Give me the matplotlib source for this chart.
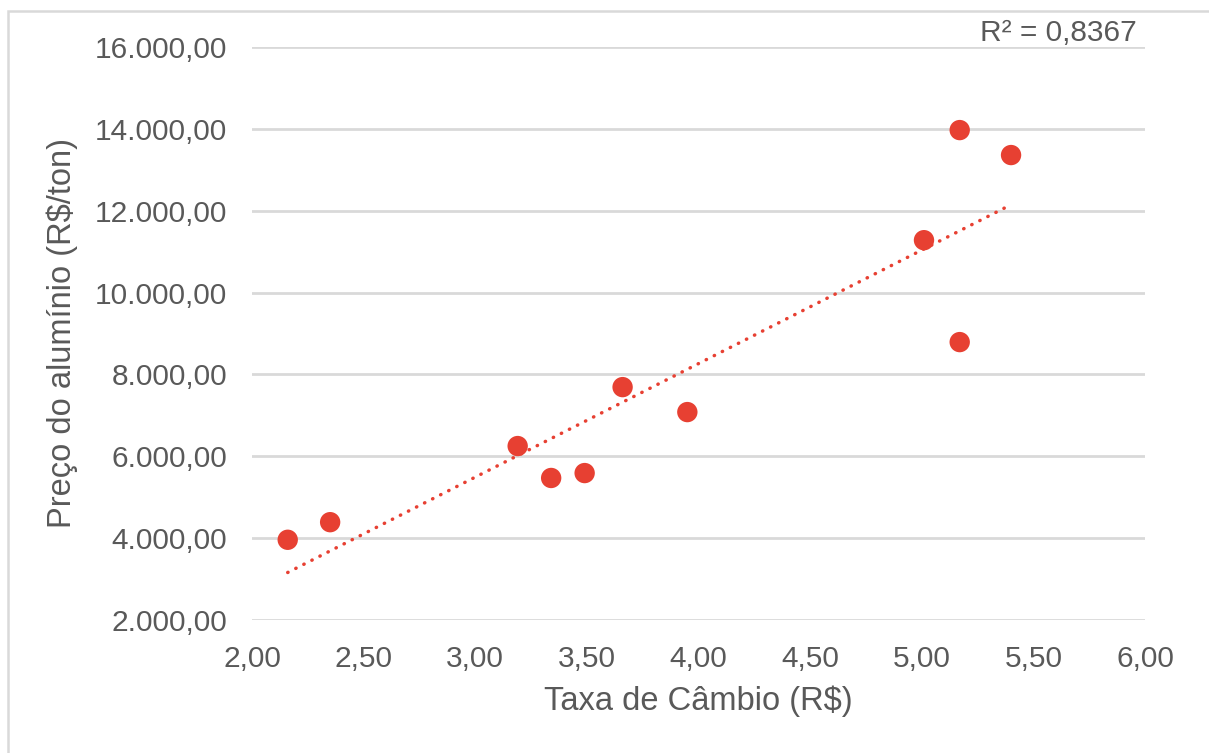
import numpy as np
import matplotlib
matplotlib.use("Agg")
import matplotlib.pyplot as plt
from matplotlib.patches import Rectangle
from matplotlib.ticker import FuncFormatter

plt.rcParams['font.family'] = ['Liberation Sans', 'DejaVu Sans']

# Data
taxa_cambio = [2.16, 2.35, 3.19, 3.34, 3.49, 3.66, 3.95, 5.01, 5.17, 5.40, 5.17]
preco_aluminio = [3960, 4390, 6250, 5470, 5590, 7690, 7080, 11280, 13970, 13360, 8790]
r2_label = "R² = 0,8367"
x_label = "Taxa de Câmbio (R$)"
y_label = "Preço do alumínio (R$/ton)"
x_ticks = [2.0, 2.5, 3.0, 3.5, 4.0, 4.5, 5.0, 5.5, 6.0]
y_ticks = [2000, 4000, 6000, 8000, 10000, 12000, 14000, 16000]

W, H = 1209, 753
fig = plt.figure(figsize=(W / 100, H / 100), dpi=100)
ax = fig.add_axes([252 / W, 1 - 620 / H, (1145 - 252) / W, (620 - 47) / H])

red = '#e74032'
grid_c = '#d9d9d9'
txt_c = '#595959'

x = np.array(taxa_cambio)
y = np.array(preco_aluminio)
coef = np.polyfit(x, y, 1)
xs = np.array([x.min(), x.max()])
ax.plot(xs, np.polyval(coef, xs), color=red, lw=2.5,
        linestyle=(0, (0.1, 2.5)), dash_capstyle='round', zorder=3)
ax.scatter(x, y, s=215, color=red, edgecolors='none', zorder=4)

ax.set_xlim(2.0, 6.0)
ax.set_ylim(2000, 16000)
ax.set_xticks(x_ticks)
ax.set_yticks(y_ticks)

def fmt_x(v, pos):
    return f"{v:.2f}".replace('.', ',')

def fmt_y(v, pos):
    s = f"{v:,.2f}"
    return s.replace(',', 'X').replace('.', ',').replace('X', '.')

ax.xaxis.set_major_formatter(FuncFormatter(fmt_x))
ax.yaxis.set_major_formatter(FuncFormatter(fmt_y))

ax.grid(axis='y', color=grid_c, lw=2.0)
ax.set_axisbelow(True)
for s in ax.spines.values():
    s.set_visible(False)
ax.tick_params(axis='both', length=0, labelsize=21.5, colors=txt_c)
ax.tick_params(axis='x', pad=18)
ax.tick_params(axis='y', pad=18)

ax.set_xlabel(x_label, fontsize=23.5, color=txt_c, labelpad=9)
ax.set_ylabel(y_label, fontsize=23.5, color=txt_c, labelpad=12)

fig.text(1137 / W, 1 - 33 / H, r2_label, fontsize=21.5, color=txt_c,
         ha='right', va='center')

# outer chart frame
fig.patches.append(Rectangle((8 / W, -0.1), 1.2, 1 - 11 / H + 0.1,
                             transform=fig.transFigure, fill=False,
                             edgecolor=grid_c, lw=1.8))

fig.savefig('out.png', dpi=100, facecolor='white')
